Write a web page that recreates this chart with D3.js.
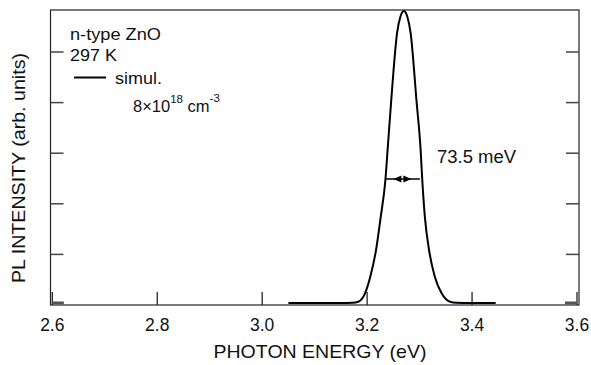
<!DOCTYPE html>
<html>
<head>
<meta charset="utf-8">
<script src="https://cdn.jsdelivr.net/npm/d3@7"></script>
<style>
  html, body { margin: 0; padding: 0; background: #fff; }
  svg { display: block; font-family: "Liberation Sans", Arial, Helvetica, sans-serif; }
</style>
</head>
<body>
<svg id="chart" width="591" height="365"></svg>
<script>
// ---- data ----
const energy    = [3.050, 3.100, 3.150, 3.172, 3.183, 3.196, 3.206, 3.217, 3.226, 3.235, 3.239, 3.246, 3.257, 3.2635, 3.270, 3.2765, 3.283, 3.294, 3.302, 3.305, 3.310, 3.318, 3.329, 3.342, 3.358, 3.370, 3.400, 3.445];
const intensity = [0.04,  0.04,  0.04,  0.045, 0.065, 0.231, 0.559, 1.087, 1.745, 2.49,  3.06,  4.05,  5.37,  5.70,   5.81,  5.70,   5.37,  4.05,  3.06,  2.49,  1.745, 1.087, 0.559, 0.231, 0.065, 0.045, 0.04,  0.04];
const xTicks = [2.6, 2.8, 3.0, 3.2, 3.4, 3.6];
const xTickLabels = ["2.6", "2.8", "3.0", "3.2", "3.4", "3.6"];
const yTicks = [1, 2, 3, 4, 5];
const stubStart = [2.600, 2.622];   // short baseline fragments at the frame ends
const stubEnd = [3.577, 3.600];
const fwhmLeft = 3.234, fwhmRight = 3.3005, fwhmLevel = 2.49;
const fwhmLabel = "73.5 meV";
const sampleLabel = "n-type ZnO";
const tempLabel = "297 K";
const legendLabel = "simul.";

const svg = d3.select("#chart");
const x = d3.scaleLinear().domain([2.6, 3.6]).range([52.3, 577]);
const y = d3.scaleLinear().domain([0, 5.83]).range([305, 10]);

const frameL = 50.5, frameR = 579, frameT = 10, frameB = 305;

// frame
svg.append("rect")
  .attr("x", frameL).attr("y", frameT)
  .attr("width", frameR - frameL).attr("height", frameB - frameT)
  .attr("fill", "none").attr("stroke", "#222").attr("stroke-width", 1.2);

// x ticks (bottom, inward)
svg.append("g").selectAll("line").data(xTicks).join("line")
  .attr("x1", d => x(d)).attr("x2", d => x(d))
  .attr("y1", frameB).attr("y2", frameB - 13)
  .attr("stroke", "#222").attr("stroke-width", 1.3);

svg.append("g").selectAll("text").data(xTicks).join("text")
  .attr("x", d => x(d)).attr("y", 331)
  .attr("text-anchor", "middle")
  .attr("font-size", 17.5)
  .attr("fill", "#111")
  .text((d, i) => xTickLabels[i]);

// y ticks (left & right, inward)
const yt = svg.append("g");
yt.selectAll("line.l").data(yTicks).join("line").attr("class", "l")
  .attr("x1", frameL).attr("x2", frameL + 13)
  .attr("y1", d => y(d)).attr("y2", d => y(d))
  .attr("stroke", "#444").attr("stroke-width", 1.5);
yt.selectAll("line.r").data(yTicks).join("line").attr("class", "r")
  .attr("x1", frameR).attr("x2", frameR - 13)
  .attr("y1", d => y(d)).attr("y2", d => y(d))
  .attr("stroke", "#444").attr("stroke-width", 1.5);

// axis labels
svg.append("text")
  .attr("x", 320).attr("y", 358)
  .attr("text-anchor", "middle").attr("font-size", 18.5).attr("fill", "#111")
  .attr("textLength", 213).attr("lengthAdjust", "spacingAndGlyphs")
  .text("PHOTON ENERGY (eV)");

svg.append("text")
  .attr("transform", "translate(25,168) rotate(-90)")
  .attr("text-anchor", "middle").attr("font-size", 18.5).attr("fill", "#111")
  .attr("textLength", 230).attr("lengthAdjust", "spacingAndGlyphs")
  .text("PL INTENSITY (arb. units)");

// baseline stubs
[stubStart, stubEnd].forEach(s => {
  svg.append("line")
    .attr("x1", x(s[0])).attr("x2", x(s[1]))
    .attr("y1", y(0.04)).attr("y2", y(0.04))
    .attr("stroke", "#555").attr("stroke-width", 3);
});

// curve
const pts = energy.map((e, i) => [e, intensity[i]]);
svg.append("path")
  .datum(pts)
  .attr("fill", "none")
  .attr("stroke", "#000")
  .attr("stroke-width", 2)
  .attr("stroke-linejoin", "round")
  .attr("d", d3.line().x(d => x(d[0])).y(d => y(d[1])).curve(d3.curveMonotoneX));

// FWHM arrow
const ay = y(fwhmLevel);
const xl = x(fwhmLeft), xr = x(fwhmRight), xm = (xl + xr) / 2;
svg.append("line")
  .attr("x1", xl).attr("x2", xr).attr("y1", ay).attr("y2", ay)
  .attr("stroke", "#000").attr("stroke-width", 1.6);
svg.append("path")
  .attr("d", `M${xm - 9},${ay} L${xm - 1},${ay - 3.5} L${xm - 1},${ay + 3.5} Z`)
  .attr("fill", "#000");
svg.append("path")
  .attr("d", `M${xm + 9},${ay} L${xm + 1},${ay - 3.5} L${xm + 1},${ay + 3.5} Z`)
  .attr("fill", "#000");

svg.append("text")
  .attr("x", 437).attr("y", 162.5)
  .attr("font-size", 17.5).attr("fill", "#111")
  .attr("textLength", 79).attr("lengthAdjust", "spacingAndGlyphs")
  .text(fwhmLabel);

// legend / annotations
svg.append("text").attr("x", 70).attr("y", 39.5).attr("font-size", 17).attr("fill", "#111")
  .attr("textLength", 91).attr("lengthAdjust", "spacingAndGlyphs").text(sampleLabel);
svg.append("text").attr("x", 70).attr("y", 61).attr("font-size", 17).attr("fill", "#111")
  .attr("textLength", 47).attr("lengthAdjust", "spacingAndGlyphs").text(tempLabel);
svg.append("line").attr("x1", 74).attr("x2", 106).attr("y1", 77.5).attr("y2", 77.5)
  .attr("stroke", "#000").attr("stroke-width", 2);
svg.append("text").attr("x", 115).attr("y", 83.5).attr("font-size", 17).attr("fill", "#111")
  .attr("textLength", 47).attr("lengthAdjust", "spacingAndGlyphs").text(legendLabel);

const conc = svg.append("text").attr("x", 133).attr("y", 112).attr("font-size", 16.5).attr("fill", "#111");
conc.append("tspan").text("8×10");
conc.append("tspan").attr("dy", -9).attr("font-size", 11.5).text("18");
conc.append("tspan").attr("dy", 9).text(" cm");
conc.append("tspan").attr("dy", -10).attr("font-size", 11.5).text("-3");
</script>
</body>
</html>
